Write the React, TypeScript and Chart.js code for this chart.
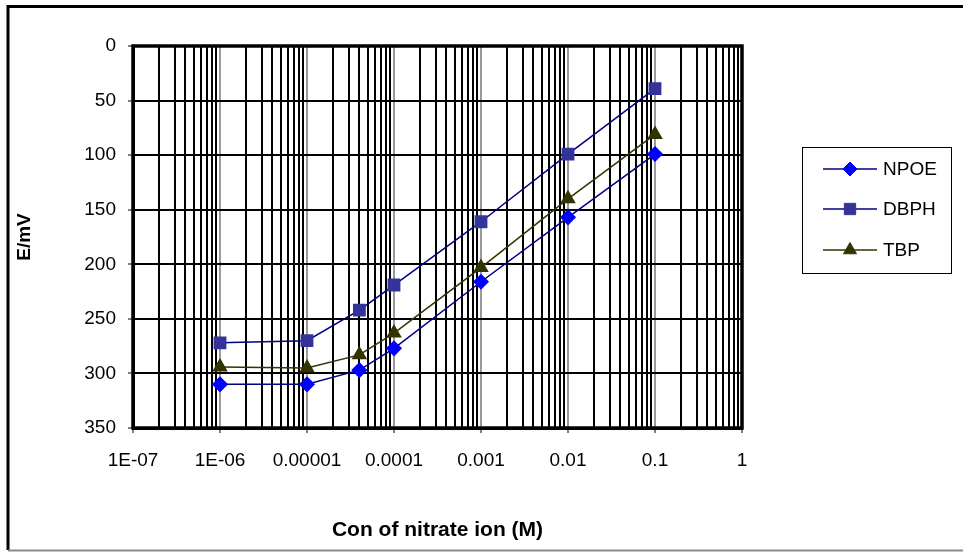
import React, { useEffect, useRef } from "react";
import { Chart, registerables } from "chart.js";
import { drawPoint } from "chart.js/helpers";

Chart.register(...registerables);

// ---- data ----
const concentrations = [1e-6, 1e-5, 4e-5, 1e-4, 1e-3, 1e-2, 1e-1];
const npoeValues = [310, 310, 297, 277, 216, 157, 99];
const dbphValues = [272, 270, 242, 219, 161, 99, 39];
const tbpValues = [294, 295, 283, 263, 203, 140, 81];
const seriesNames = ["NPOE", "DBPH", "TBP"];

const xDecades = [1e-7, 1e-6, 1e-5, 1e-4, 1e-3, 1e-2, 1e-1, 1];
const xTickLabels = ["1E-07", "1E-06", "0.00001", "0.0001", "0.001", "0.01", "0.1", "1"];
const yTickValues = [0, 50, 100, 150, 200, 250, 300, 350];

const FONT = "'Liberation Sans', Arial, sans-serif";

export default function App() {
  const ref = useRef<HTMLCanvasElement | null>(null);

  useEffect(() => {
    document.body.style.margin = "0";
    const canvas = ref.current;
    if (!canvas) return;

    const toPts = (vals: number[]) => vals.map((v, i) => ({ x: concentrations[i], y: v }));

    const framePlugin = {
      id: "frame",
      beforeDraw(chart: any) {
        const c = chart.ctx;
        c.save();
        c.fillStyle = "#fff";
        c.fillRect(0, 0, chart.width, chart.height);
        c.strokeStyle = "#000";
        c.lineWidth = 3;
        c.beginPath();
        c.moveTo(8, 550);
        c.lineTo(8, 6.5);
        c.lineTo(970, 6.5);
        c.stroke();
        c.strokeStyle = "#8a8a8a";
        c.lineWidth = 2;
        c.beginPath();
        c.moveTo(8, 550.5);
        c.lineTo(970, 550.5);
        c.stroke();
        c.restore();
      },
      beforeDatasetsDraw(chart: any) {
        const a = chart.chartArea;
        const c = chart.ctx;
        c.save();
        c.strokeStyle = "#000";
        c.lineWidth = 3.5;
        c.strokeRect(a.left, a.top, a.right - a.left, a.bottom - a.top);
        c.restore();
      },
      afterDraw(chart: any) {
        const c = chart.ctx;
        c.save();
        c.strokeStyle = "#000";
        c.lineWidth = 1;
        c.strokeRect(802.5, 147.5, 149, 126);
        const ys = [169, 209, 250];
        chart.data.datasets.forEach((ds: any, i: number) => {
          const y = ys[i];
          c.strokeStyle = ds.borderColor;
          c.lineWidth = ds.borderWidth;
          c.beginPath();
          c.moveTo(823, y);
          c.lineTo(877, y);
          c.stroke();
          c.fillStyle = ds.pointBackgroundColor;
          c.strokeStyle = ds.pointBorderColor;
          c.lineWidth = 1;
          drawPoint(c, { pointStyle: ds.pointStyle, radius: ds.pointRadius, borderWidth: 1, rotation: 0 }, 850, y);
          c.fillStyle = "#000";
          c.font = `19px ${FONT}`;
          c.textBaseline = "middle";
          c.textAlign = "left";
          c.fillText(ds.label, 883, y + 1);
        });
        c.restore();
      },
    };

    const chart = new Chart(canvas, {
      type: "line",
      data: {
        datasets: [
          {
            label: seriesNames[0],
            data: toPts(npoeValues),
            borderColor: "#000080",
            borderWidth: 1.5,
            pointStyle: "rectRot",
            pointRadius: 7,
            pointBackgroundColor: "#0000FF",
            pointBorderColor: "#0000FF",
          },
          {
            label: seriesNames[1],
            data: toPts(dbphValues),
            borderColor: "#000080",
            borderWidth: 1.5,
            pointStyle: "rect",
            pointRadius: 8,
            pointBackgroundColor: "#333399",
            pointBorderColor: "#333399",
          },
          {
            label: seriesNames[2],
            data: toPts(tbpValues),
            borderColor: "#333300",
            borderWidth: 1.5,
            pointStyle: "triangle",
            pointRadius: 7.5,
            pointBackgroundColor: "#333300",
            pointBorderColor: "#333300",
          },
        ],
      },
      options: {
        responsive: false,
        animation: false,
        layout: { padding: { left: 0, top: 46, right: 221, bottom: 0 } },
        plugins: { legend: { display: false }, tooltip: { enabled: false } },
        elements: { line: { tension: 0 } },
        scales: {
          x: {
            type: "logarithmic",
            min: xDecades[0],
            max: xDecades[xDecades.length - 1],
            afterFit(scale: any) {
              scale.height = 124;
            },
            afterBuildTicks(scale: any) {
              const ticks: any[] = [];
              for (let d = 0; d < xDecades.length - 1; d++) {
                for (let k = 1; k <= 9; k++) {
                  ticks.push({ value: k * xDecades[d], major: k === 1 });
                }
              }
              ticks.push({ value: xDecades[xDecades.length - 1], major: true });
              scale.ticks = ticks;
            },
            grid: {
              color: (ctx: any) => (ctx.tick && ctx.tick.major ? "#9a9a9a" : "#000"),
              lineWidth: 2,
              tickLength: 5,
              tickColor: (ctx: any) => (ctx.tick && ctx.tick.major ? "#000" : "rgba(0,0,0,0)"),
              tickWidth: 1,
            },
            border: { display: true, color: "#000", width: 3 },
            ticks: {
              autoSkip: false,
              maxRotation: 0,
              minRotation: 0,
              padding: 16,
              color: "#000",
              font: { family: FONT, size: 19 },
              callback: (value: any, index: number, ticks: any[]) => {
                if (!ticks[index].major) return "";
                const i = Math.round(Math.log10(Number(value))) + 7;
                return xTickLabels[i] ?? "";
              },
            },
            title: {
              display: true,
              text: "Con of nitrate ion (M)",
              color: "#000",
              font: { family: FONT, size: 21, weight: "bold" },
              padding: { top: 0, bottom: 9 },
            },
          },
          y: {
            type: "linear",
            reverse: true,
            min: yTickValues[0],
            max: yTickValues[yTickValues.length - 1],
            afterFit(scale: any) {
              scale.width = 133;
            },
            afterBuildTicks(scale: any) {
              scale.ticks = yTickValues.map((v) => ({ value: v }));
            },
            grid: {
              color: "#000",
              lineWidth: 2,
              tickLength: 5,
              tickColor: "#000",
              tickWidth: 1,
            },
            border: { display: true, color: "#000", width: 3 },
            ticks: {
              padding: 12,
              color: "#000",
              font: { family: FONT, size: 19 },
            },
            title: {
              display: true,
              text: "E/mV",
              color: "#000",
              font: { family: FONT, size: 19, weight: "bold" },
              padding: { top: 13, bottom: 0 },
            },
          },
        },
      },
      plugins: [framePlugin],
    } as any);

    return () => chart.destroy();
  }, []);

  return (
    <div style={{ width: 963, height: 552 }}>
      <canvas ref={ref} width={963} height={552} style={{ display: "block" }} />
    </div>
  );
}
